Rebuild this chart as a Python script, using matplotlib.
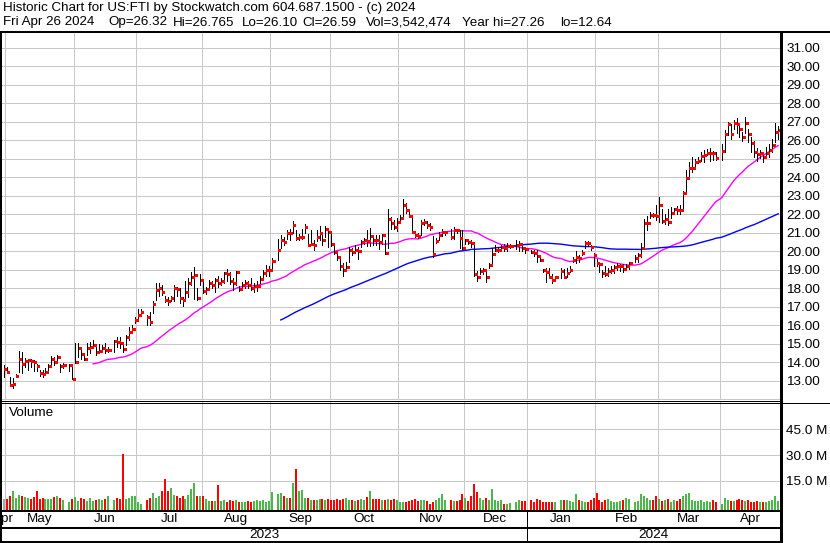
import numpy as np
import pandas as pd
import matplotlib
matplotlib.use("Agg")
import matplotlib.pyplot as plt

plt.rcParams['font.family'] = ['Liberation Sans', 'DejaVu Sans']

W, H = 830, 543

# ---------------- data ----------------
holidays = ['2023-05-29', '2023-06-19', '2023-07-04', '2023-09-04', '2023-11-23',
            '2023-12-25', '2024-01-01', '2024-01-15', '2024-02-19', '2024-03-29']

close = [
    # Apr 28 + May
    13.65, 13.51, 12.80, 12.82, 13.29, 14.19, 13.92, 14.10, 14.12, 14.08, 14.05, 13.81,
    13.45, 13.38, 13.51, 13.83, 14.19, 14.05, 14.32, 13.81, 13.87, 13.88, 13.10,
    # Jun
    14.01, 14.80, 14.44, 14.19, 14.80, 14.82, 14.93, 14.55, 14.62, 14.80, 14.68, 14.70,
    15.18, 15.13, 15.04, 14.75, 15.40, 15.63, 15.83, 16.32, 16.57,
    # Jul
    16.75, 16.44, 16.20, 17.16, 17.90, 18.04, 17.79, 17.39, 17.34, 17.47, 18.00, 17.95,
    17.47, 17.38, 17.83, 18.31, 18.64, 18.73, 17.47, 18.46,
    # Aug
    17.88, 17.95, 18.31, 18.19, 18.46, 18.28, 18.42, 18.82, 18.80, 18.42, 18.28, 18.91,
    17.95, 18.19, 18.28, 18.17, 18.01, 18.13, 18.15, 18.51, 18.82, 19.00, 19.02,
    # Sep
    19.50, 20.08, 20.62, 20.53, 21.02, 20.98, 21.43, 20.71, 20.77, 20.80, 21.34, 20.35,
    20.39, 20.37, 20.80, 21.02, 20.62, 21.20, 21.04, 20.40,
    # Oct
    19.99, 19.72, 19.22, 19.00, 19.18, 20.08, 19.99, 20.06, 20.04, 20.53, 20.62, 20.55,
    20.84, 20.64, 20.60, 20.53, 20.89, 19.90, 21.74, 21.56, 21.34, 21.58,
    # Nov
    21.79, 22.51, 22.24, 21.92, 21.07, 20.89, 20.86, 21.52, 21.61, 21.43, 21.34, 19.85,
    20.57, 20.89, 21.04, 21.07, 20.80, 21.16, 21.14, 20.71, 20.21,
    # Dec
    20.62, 20.53, 20.44, 18.77, 18.64, 18.96, 18.98, 18.64, 19.27, 19.87, 20.08, 20.10,
    20.26, 20.17, 20.28, 20.30, 20.35, 20.40, 20.17, 20.12,
    # Jan
    19.99, 19.90, 19.77, 19.54, 19.00, 18.91, 18.60, 18.46, 18.62, 18.95, 18.60, 18.82,
    19.00, 19.54, 19.72, 19.67, 19.94, 20.48, 20.44, 20.23, 19.81,
    # Feb
    19.36, 19.32, 18.86, 18.77, 18.95, 19.00, 19.18, 19.20, 19.22, 19.04, 19.24, 19.36,
    19.63, 19.81, 20.17, 21.52, 21.54, 21.97, 21.95, 21.90,
    # Mar
    22.51, 21.67, 21.76, 21.58, 22.06, 22.28, 22.24, 22.22, 23.18, 23.95, 24.50, 24.53,
    24.86, 24.91, 25.16, 25.22, 25.31, 25.34, 25.30, 25.04,
    # Apr
    25.45, 26.33, 26.87, 26.33, 26.93, 26.89, 26.60, 26.17, 26.93, 26.35, 25.85, 25.40,
    25.27, 25.31, 25.13, 25.33, 25.50, 25.76, 26.48, 26.59,
]

high = [
    13.87, 13.74, 13.20, 13.15, 13.38, 14.62, 14.55, 14.23, 14.19, 14.19, 14.14, 13.92,
    13.60, 13.60, 13.69, 13.92, 14.35, 14.32, 14.39, 13.92, 13.96, 13.92, 13.87,
    15.07, 15.04, 14.68, 14.41, 15.04, 15.09, 15.22, 14.86, 15.00, 14.95, 15.04, 14.86,
    15.22, 15.40, 15.40, 15.13, 15.49, 15.94, 16.03, 16.48, 16.87,
    16.87, 16.55, 16.75, 17.30, 18.30, 18.28, 18.20, 17.60, 17.55, 17.60, 18.20, 18.10,
    18.00, 17.55, 18.40, 18.55, 18.90, 19.15, 18.00, 18.80,
    18.40, 18.10, 18.45, 18.40, 18.55, 18.70, 18.55, 18.90, 19.05, 18.90, 18.55, 18.95,
    18.15, 18.35, 18.45, 18.40, 18.55, 18.30, 18.40, 18.65, 19.00, 19.25, 19.20,
    19.65, 20.70, 20.88, 20.80, 21.15, 21.20, 21.65, 21.15, 20.95, 21.20, 21.50, 20.95,
    21.15, 20.60, 21.15, 21.35, 20.90, 21.38, 21.25, 21.00,
    20.40, 20.00, 19.60, 19.35, 19.45, 20.25, 20.20, 20.35, 20.25, 20.62, 20.75, 21.15,
    21.25, 20.90, 20.90, 20.90, 20.95, 20.60, 22.28, 21.85, 21.70, 21.80,
    21.95, 22.82, 22.60, 22.15, 21.85, 21.10, 21.00, 21.70, 21.78, 21.62, 21.52, 20.85,
    20.75, 21.05, 21.20, 21.10, 21.20, 21.30, 21.16, 21.15, 21.15,
    20.70, 20.68, 20.62, 20.35, 18.96, 19.10, 19.10, 18.90, 19.40, 20.20, 20.35, 20.25,
    20.35, 20.40, 20.45, 20.38, 20.62, 20.55, 20.45, 20.20,
    20.10, 20.10, 20.08, 19.75, 19.05, 19.10, 19.10, 18.80, 18.70, 19.10, 19.05, 19.10,
    19.20, 19.70, 20.00, 19.80, 20.10, 20.55, 20.55, 20.35, 19.90,
    19.60, 19.45, 19.00, 19.20, 19.10, 19.20, 19.25, 19.35, 19.30, 19.30, 19.30, 19.45,
    19.80, 19.90, 20.45, 21.75, 21.90, 22.15, 22.10, 22.50,
    22.95, 22.30, 22.00, 22.30, 22.40, 22.35, 22.45, 22.50, 23.25, 24.40, 24.85, 25.10,
    25.00, 25.10, 25.40, 25.50, 25.55, 25.60, 25.45, 25.40,
    25.80, 26.55, 27.00, 26.90, 27.10, 27.20, 26.90, 26.45, 27.26, 26.60, 26.20, 25.95,
    25.60, 25.50, 25.40, 25.65, 25.80, 26.10, 26.95, 26.765,
]

low = [
    13.20, 13.42, 12.70, 12.64, 13.20, 13.47, 13.42, 13.74, 13.60, 13.74, 13.56, 13.54,
    13.29, 13.20, 13.42, 13.60, 13.87, 13.87, 14.05, 13.51, 13.69, 13.56, 13.09,
    13.96, 14.32, 14.17, 14.14, 14.41, 14.50, 14.77, 14.41, 14.50, 14.59, 14.50, 14.59,
    14.59, 14.86, 14.77, 14.59, 14.95, 15.22, 15.76, 16.12, 16.30,
    16.62, 16.05, 16.00, 16.65, 17.40, 17.60, 17.65, 17.25, 17.10, 17.30, 17.30, 17.60,
    17.20, 17.05, 17.30, 17.55, 18.20, 17.45, 17.38, 18.20,
    17.75, 17.70, 18.05, 18.00, 17.80, 18.10, 18.20, 18.30, 18.40, 18.25, 17.90, 18.20,
    17.85, 17.95, 18.00, 18.00, 17.90, 17.80, 17.85, 18.30, 18.50, 18.70, 18.70,
    19.05, 19.55, 20.20, 20.35, 20.70, 20.62, 20.98, 20.60, 20.60, 20.68, 20.98, 20.30,
    20.35, 20.10, 20.55, 20.62, 20.35, 20.80, 20.25, 20.30,
    19.85, 19.55, 19.00, 18.70, 18.95, 19.45, 19.80, 19.90, 19.60, 20.25, 20.40, 20.30,
    20.30, 20.35, 20.35, 20.15, 20.40, 19.85, 20.17, 21.20, 21.20, 21.10,
    21.65, 21.90, 22.08, 21.85, 21.00, 20.80, 20.75, 20.90, 21.45, 21.25, 21.15, 19.72,
    20.45, 20.62, 20.85, 20.90, 20.70, 20.65, 20.98, 20.20, 20.15,
    20.40, 20.40, 20.26, 18.70, 18.40, 18.80, 18.80, 18.35, 19.10, 19.35, 20.00, 19.95,
    20.00, 20.05, 20.00, 20.20, 20.15, 20.00, 20.05, 19.90,
    19.90, 19.75, 19.45, 19.50, 18.90, 18.35, 18.55, 18.30, 18.52, 18.55, 18.55, 18.64,
    18.90, 19.45, 19.35, 19.45, 19.80, 20.20, 20.30, 20.10, 19.20,
    19.20, 18.90, 18.60, 18.70, 18.70, 18.85, 18.85, 19.00, 18.95, 18.90, 19.10, 19.05,
    19.45, 19.45, 19.70, 20.30, 21.15, 21.80, 21.85, 21.70,
    21.60, 21.55, 21.50, 21.45, 21.80, 22.00, 22.00, 22.05, 22.20, 23.20, 24.05, 24.30,
    24.60, 24.80, 24.90, 24.85, 25.20, 24.90, 24.95, 24.95,
    24.95, 25.40, 26.30, 26.10, 26.60, 26.40, 26.20, 25.95, 26.40, 25.90, 25.40, 25.10,
    24.90, 25.05, 24.85, 25.10, 25.10, 25.40, 25.90, 26.10,
]

# volume in millions of shares
volume = [
    # Apr 28 + May
    4.5, 4.5, 6.5, 9.0, 5.0, 7.0, 6.0, 5.5, 5.0, 4.5, 5.5, 9.3, 4.5, 5.0, 4.5, 4.5,
    4.5, 5.8, 6.0, 5.0, 4.0, 3.0, 4.5,
    # Jun
    5.5, 3.5, 5.2, 4.5, 3.2, 4.8, 3.5, 4.2, 4.5, 4.0, 4.5, 6.0, 4.0, 5.0, 4.3, 30.5,
    4.3, 5.0, 6.0, 6.0, 3.0,
    # Jul
    1.5, 4.2, 5.0, 8.0, 5.0, 6.5, 9.3, 16.2, 9.3, 11.0, 7.0, 6.2, 5.0, 6.0, 4.5, 7.0,
    10.5, 14.0, 6.3, 6.3,
    # Aug
    6.0, 4.5, 3.5, 3.2, 3.5, 12.6, 3.5, 4.2, 3.0, 3.8, 3.3, 4.2, 2.5, 3.0, 3.0, 3.2,
    3.0, 3.3, 3.8, 3.3, 3.8, 3.0, 3.5,
    # Sep
    8.8, 7.5, 8.0, 6.5, 5.0, 5.0, 13.6, 21.8, 9.0, 10.0, 5.0, 4.8, 3.8, 3.8, 4.2, 4.5,
    4.3, 3.8, 4.5, 4.0,
    # Oct
    4.2, 4.5, 3.8, 4.3, 5.0, 4.2, 3.8, 3.5, 3.8, 4.3, 3.8, 5.5, 9.0, 4.5, 4.5, 4.3,
    4.2, 3.8, 4.5, 3.8, 4.3, 4.2,
    # Nov
    3.0, 3.0, 3.0, 3.5, 4.2, 4.3, 3.5, 3.8, 4.2, 3.5, 1.5, 2.5, 3.8, 5.0, 7.5, 4.2,
    4.2, 3.5, 3.5, 4.2, 7.5,
    # Dec
    5.0, 3.5, 6.0, 13.2, 8.5, 5.0, 4.2, 5.0, 3.8, 10.5, 4.2, 3.5, 3.8, 1.5, 1.5, 2.0,
    3.0, 3.8, 3.5, 3.2,
    # Jan
    4.2, 3.0, 4.5, 3.8, 2.5, 3.0, 3.0, 3.0, 3.0, 3.8, 3.8, 3.8, 3.5, 2.5, 7.5, 4.2,
    3.5, 3.0, 3.0, 3.8, 5.0,
    # Feb
    7.9, 4.2, 3.0, 3.8, 4.5, 3.5, 2.5, 2.5, 3.5, 4.2, 5.0, 4.5, 3.0, 3.5, 7.2, 6.0,
    5.0, 4.2, 3.8, 6.0,
    # Mar
    4.5, 3.5, 3.8, 4.5, 3.0, 3.8, 3.5, 4.5, 6.0, 7.5, 8.0, 3.8, 3.5, 3.5, 3.8, 3.0,
    3.5, 2.5, 3.8, 3.0,
    # Apr
    1.5, 5.0, 3.8, 3.5, 3.5, 3.8, 4.5, 3.8, 3.5, 4.2, 3.0, 3.0, 3.5, 3.0, 3.0, 3.0,
    3.5, 3.8, 6.0, 3.54,
]

price_ticks = list(range(13, 32))
vol_ticks = [15, 30, 45]
month_names = ['Apr', 'May', 'Jun', 'Jul', 'Aug', 'Sep', 'Oct', 'Nov', 'Dec',
               'Jan', 'Feb', 'Mar', 'Apr']
title1 = 'Historic Chart for US:FTI by Stockwatch.com 604.687.1500 - (c) 2024'
title2 = [('Fri Apr 26 2024', 3), ('Op=26.32', 108), ('Hi=26.765', 173),
          ('Lo=26.10', 242), ('Cl=26.59', 302), ('Vol=3,542,474', 366),
          ('Year hi=27.26', 462), ('lo=12.64', 560)]

# ---------------- x positions: one slot per weekday, holidays leave gaps ----
slots = pd.bdate_range('2023-04-27', '2024-04-26')
hol = pd.to_datetime(holidays)
days = slots[(~slots.isin(hol)) & (slots > pd.Timestamp('2023-04-27'))]
x = np.array([slots.get_loc(d) for d in days], dtype=float)

close = np.array(close)
high = np.array(high)
low = np.array(low)
volume = np.array(volume)

ma_fast = pd.Series(close).rolling(30).mean().values
ma_slow = pd.Series(close).rolling(90).mean().values

chg = np.diff(close, prepend=close[0])
vcol = np.where(chg > 0.001, '#4cb84c', np.where(chg < -0.001, '#ff0000', '#a8a8a8'))

# month boundaries (gridlines)
month_starts = pd.date_range('2023-05-01', '2024-04-01', freq='MS')
grid_pos = []
for m in month_starts:
    first = slots[slots >= m][0]
    p = slots.get_loc(first) - 0.5
    if m.weekday() >= 5:
        p -= 1
    grid_pos.append(p)
XMIN, XMAX = 0.4, 261.6
bounds = [XMIN] + grid_pos + [XMAX]
label_pos = [(a + b) / 2 for a, b in zip(bounds[:-1], bounds[1:])]
jan_pos = grid_pos[8]

# ---------------- figure ----------------
fig = plt.figure(figsize=(W / 100, H / 100), dpi=100)
fig.patch.set_facecolor('white')


def px_axes(x0, y0, x1, y1):
    return fig.add_axes([x0 / W, 1 - y1 / H, (x1 - x0) / W, (y1 - y0) / H])


GRID = '#c8c8c8'
PX = 0.72  # one pixel in points
FS = 9.7

# price panel
ax = px_axes(2, 33, 780, 400)
ax.set_xlim(XMIN, XMAX)
ax.set_ylim(11.97, 31.81)
for s in ax.spines.values():
    s.set_visible(False)
for p in range(12, 32):
    ax.axhline(p, color=GRID, lw=PX, zorder=0)
for g in grid_pos:
    ax.axvline(g, color=GRID, lw=PX, zorder=0)
ax.vlines(x, low, high, color='black', lw=PX, antialiased=False, zorder=3)
ax.hlines(close, x + 0.2, x + 0.9, color='#ff0000', lw=3 * PX,
          antialiased=False, zorder=4)
ax.plot(x, ma_fast, color='#ff00ff', lw=1.0, zorder=2)
ax.plot(x, ma_slow, color='#0000ff', lw=1.0, zorder=2)
ax.yaxis.tick_right()
ax.set_yticks(price_ticks)
ax.set_yticklabels([f'{v:.2f}' for v in price_ticks], fontsize=FS)
ax.tick_params(axis='y', length=0, pad=4.5)
ax.set_xticks([])
ax.text(8, 41, 'US:FTI', transform=None, fontsize=FS)

# volume panel
axv = px_axes(2, 402, 780, 510)
axv.set_xlim(XMIN, XMAX)
axv.set_ylim(-1.9, 61.0)
for s in axv.spines.values():
    s.set_visible(False)
for v in vol_ticks:
    axv.axhline(v, color=GRID, lw=PX, zorder=0)
for g in grid_pos:
    axv.axvline(g, color=GRID, lw=PX, zorder=0)
axv.vlines(x, -1.9, volume, colors=vcol, lw=2 * PX, antialiased=False, zorder=3)
axv.yaxis.tick_right()
axv.set_yticks(vol_ticks)
axv.set_yticklabels([f'{v:.1f} M' for v in vol_ticks], fontsize=FS)
axv.tick_params(axis='y', length=0, pad=4.5)
axv.set_xticks([])

# date strips
axm = px_axes(2, 511, 780, 541)
axm.set_xlim(XMIN, XMAX)
axm.set_ylim(1, 0)
axm.axis('off')
for name, lp in zip(month_names, label_pos):
    axm.text(lp, 0.27, name, ha='center', va='center', fontsize=FS, clip_on=True)
axm.text((XMIN + jan_pos) / 2, 0.8, '2023', ha='center', va='center', fontsize=FS)
axm.text((jan_pos + XMAX) / 2, 0.8, '2024', ha='center', va='center', fontsize=FS)
axm.plot([jan_pos, jan_pos], [0, 1], color='black', lw=PX)

# overlay in pixel units for titles and frame lines
ov = fig.add_axes([0, 0, 1, 1], zorder=10)
ov.set_xlim(0, W)
ov.set_ylim(H, 0)
ov.axis('off')
ov.patch.set_alpha(0)
ov.text(3, 8.5, title1, fontsize=9.6, va='center')
for t, tx in title2:
    ov.text(tx, 22.5, t, fontsize=9.6, va='center')
ov.text(9, 413, 'Volume', fontsize=FS, va='center')
k = dict(color='black', solid_capstyle='butt')
ov.plot([0, W], [31.5, 31.5], lw=2 * PX, **k)
ov.plot([1, 1], [31, H], lw=2 * PX, **k)
ov.plot([781, 781], [31, H], lw=3 * PX, **k)
ov.plot([0, 781], [400.5, 400.5], lw=PX, **k)
ov.plot([0, W], [402.5, 402.5], lw=PX, **k)
ov.plot([0, 781], [510.5, 510.5], lw=2 * PX, **k)
ov.plot([0, 781], [527.5, 527.5], lw=2 * PX, **k)
ov.plot([0, 781], [541.5, 541.5], lw=2 * PX, **k)

fig.savefig('out.png', dpi=100)
